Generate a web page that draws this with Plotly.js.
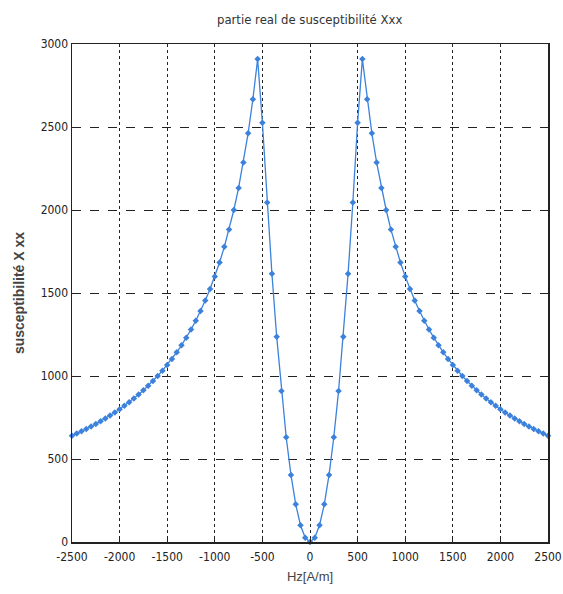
<!DOCTYPE html>
<html>
<head>
<meta charset="utf-8">
<script src="https://cdn.plot.ly/plotly-3.0.1.min.js"></script>
<style>html,body{margin:0;padding:0;background:#fff;}#chart{width:563px;height:594px;}</style>
</head>
<body>
<div id="chart"></div>
<script>
const hz = [-2500,-2450,-2400,-2350,-2300,-2250,-2200,-2150,-2100,-2050,-2000,-1950,-1900,-1850,-1800,-1750,-1700,-1650,-1600,-1550,-1500,-1450,-1400,-1350,-1300,-1250,-1200,-1150,-1100,-1050,-1000,-950,-900,-850,-800,-750,-700,-650,-600,-550,-500,-450,-400,-350,-300,-250,-200,-150,-100,-50,0,50,100,150,200,250,300,350,400,450,500,550,600,650,700,750,800,850,900,950,1000,1050,1100,1150,1200,1250,1300,1350,1400,1450,1500,1550,1600,1650,1700,1750,1800,1850,1900,1950,2000,2050,2100,2150,2200,2250,2300,2350,2400,2450,2500];
const chiXX = [640,653,667,681,696,711,727,744,762,780,800,821,842,865,889,914,941,970,1000,1032,1067,1103,1143,1185,1231,1280,1333,1391,1455,1524,1600,1684,1778,1882,2000,2133,2286,2462,2667,2909,2525,2045,1616,1237,909,631,404,227,101,25,0,25,101,227,404,631,909,1237,1616,2045,2525,2909,2667,2462,2286,2133,2000,1882,1778,1684,1600,1524,1455,1391,1333,1280,1231,1185,1143,1103,1067,1032,1000,970,941,914,889,865,842,821,800,780,762,744,727,711,696,681,667,653,640];
const xTicks = [-2500,-2000,-1500,-1000,-500,0,500,1000,1500,2000,2500];
const yTicks = [0,500,1000,1500,2000,2500,3000];

const narrow = '"DejaVu Sans Condensed", "Liberation Sans Narrow", "Liberation Sans", Arial, sans-serif';
const tickFont = {family:narrow, size:12, color:'#222'};

Plotly.newPlot('chart', [{
  x: hz, y: chiXX, type:'scatter', mode:'lines+markers',
  line:{color:'#3c82dc', width:1.3},
  marker:{symbol:'diamond', size:5, color:'#3c82dc'},
  cliponaxis:false
}], {
  width:563, height:594,
  margin:{l:72, r:15, t:44, b:52},
  paper_bgcolor:'#fff', plot_bgcolor:'#fff',
  showlegend:false,
  title:{text:'partie real de susceptibilité Xxx', x:0.55, xanchor:'center', y:0.968, yanchor:'middle',
    font:{family:narrow, size:13, color:'#333'}},
  xaxis:{range:[-2500,2500], tickvals:xTicks, ticktext:xTicks.map(String), tickfont:tickFont,
    ticklabelstandoff:3,
    showgrid:true, gridcolor:'#222', griddash:'dot', gridwidth:1,
    showline:true, linecolor:'#222', linewidth:1.5, mirror:true,
    ticks:'inside', ticklen:5, tickcolor:'#222', zeroline:false, fixedrange:true,
    title:{text:'Hz[A/m]', standoff:9, font:{family:'"Liberation Sans", Arial, sans-serif', size:13, color:'#444'}}},
  yaxis:{range:[0,3000], tickvals:yTicks, ticktext:yTicks.map(String), tickfont:tickFont,
    showgrid:true, gridcolor:'#222', griddash:'dash', gridwidth:1,
    showline:true, linecolor:'#222', linewidth:1.5, mirror:true,
    ticks:'inside', ticklen:5, tickcolor:'#222', zeroline:false, fixedrange:true,
    title:{text:'susceptibilité X xx', standoff:12, font:{family:'"Liberation Sans", Arial, sans-serif', size:14, color:'#444', weight:'bold'}}}
}, {staticPlot:true, displayModeBar:false});
</script>
</body>
</html>
